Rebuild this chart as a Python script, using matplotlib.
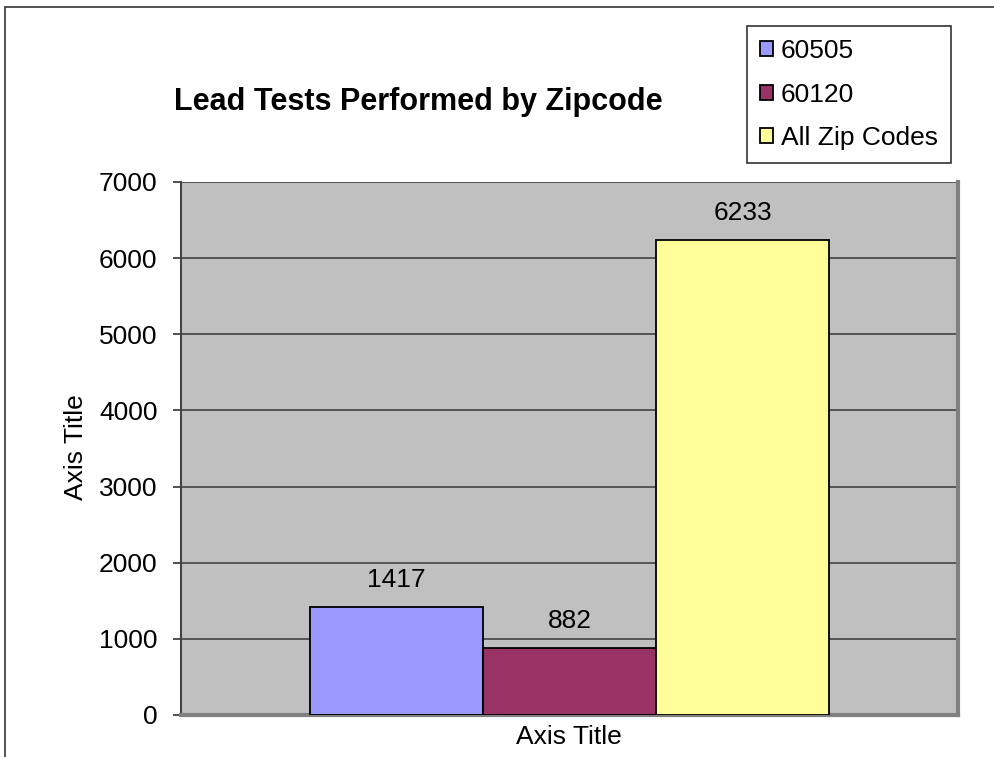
import matplotlib.pyplot as plt
from matplotlib.patches import Rectangle

# data
series = ["60505", "60120", "All Zip Codes"]
values = [1417, 882, 6233]
colors = ["#9999FF", "#993366", "#FFFF99"]
yticks = [0, 1000, 2000, 3000, 4000, 5000, 6000, 7000]

plt.rcParams["font.family"] = ["Liberation Sans", "DejaVu Sans"]

W, H = 994, 757
FS = 19
fig = plt.figure(figsize=(W / 100, H / 100), dpi=100)

# outer chart border (runs off the right and bottom edge)
fig.patches.append(Rectangle((5 / W, -0.1), 1.2, 1 - 7 / H + 0.1, transform=fig.transFigure,
                             fill=False, edgecolor="#333333", linewidth=1.2))

left, right, top, bottom = 181, 958, 182, 715
ax = fig.add_axes([left / W, 1 - bottom / H, (right - left) / W, (bottom - top) / H])
ax.set_facecolor("#C0C0C0")

bw = 173 / 777
xs = [0.5 - bw, 0.5, 0.5 + bw]
for x, v, c, s in zip(xs, values, colors, series):
    ax.bar(x, v, width=bw, color=c, edgecolor="black", linewidth=1.3, label=s, zorder=3)
    ax.annotate(str(v), (x, v), xytext=(0, 11), textcoords="offset points",
                ha="center", va="bottom", fontsize=FS, zorder=4)

ax.set_xlim(0, 1)
ax.set_ylim(0, 7000)
ax.set_yticks(yticks)
ax.set_xticks([])
ax.tick_params(axis="y", labelsize=FS, length=6, width=1.2, color="#333333", pad=11)
ax.grid(axis="y", color="#444444", linewidth=1.2, zorder=1)
ax.set_axisbelow(True)

ax.spines["left"].set_color("#444444")
ax.spines["left"].set_linewidth(1.5)
for side in ["right", "bottom"]:
    ax.spines[side].set_color("#808080")
    ax.spines[side].set_linewidth(3)
ax.spines["top"].set_visible(False)

fig.text(76 / W, 1 - 447 / H, "Axis Title", rotation=90, ha="center", va="center", fontsize=FS)
fig.text(569 / W, 1 - 737 / H, "Axis Title", ha="center", va="center", fontsize=FS)

fig.text(418 / W, 1 - 102 / H, "Lead Tests Performed by Zipcode", ha="center", va="center",
         fontsize=22, fontweight="bold")

leg = ax.legend(loc="upper left", bbox_to_anchor=(747 / W, 1 - 26 / H), bbox_transform=fig.transFigure,
                fontsize=FS, frameon=True, fancybox=False, edgecolor="black", borderpad=0.5,
                handlelength=0.5, handleheight=0.5, handletextpad=0.27, labelspacing=0.74,
                borderaxespad=0)
leg.get_frame().set_linewidth(1.2)
for p in leg.get_patches():
    p.set_edgecolor("black")
    p.set_linewidth(1.3)

fig.savefig("out.png", dpi=100)
